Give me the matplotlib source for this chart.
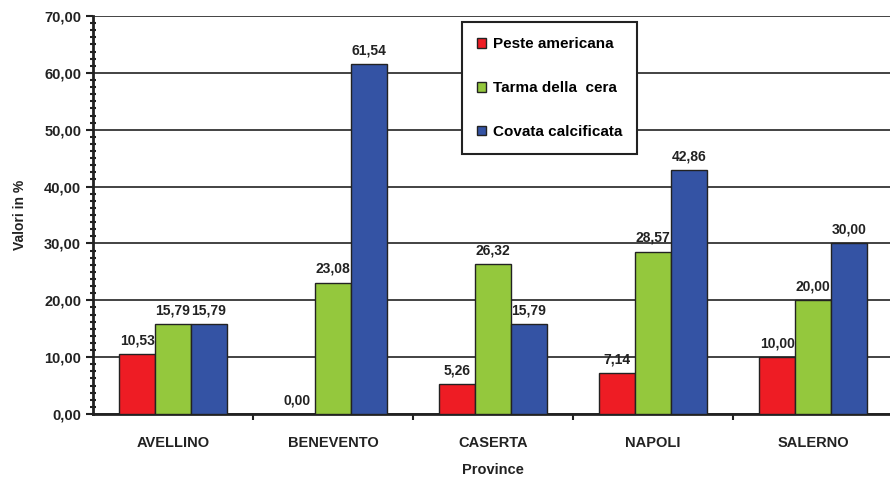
import matplotlib
matplotlib.use("Agg")
import matplotlib.pyplot as plt
import numpy as np
from matplotlib.ticker import MultipleLocator, FuncFormatter

provinces = ["AVELLINO", "BENEVENTO", "CASERTA", "NAPOLI", "SALERNO"]
series_names = ["Peste americana", "Tarma della  cera", "Covata calcificata"]
peste = [10.53, 0.00, 5.26, 7.14, 10.00]
tarma = [15.79, 23.08, 26.32, 28.57, 20.00]
covata = [15.79, 61.54, 15.79, 42.86, 30.00]
colors = ["#ee1c24", "#94c83d", "#3453a4"]

plt.rcParams['font.family'] = ['Liberation Sans', 'DejaVu Sans']
plt.rcParams['font.weight'] = 'bold'

fig = plt.figure(figsize=(8.9, 4.84), dpi=100)
ax = fig.add_axes([93/890, 1 - 414/484, 800/890, (414 - 16)/484])

x = np.arange(len(provinces))
w = 0.224
for i, (vals, name, c) in enumerate(zip([peste, tarma, covata], series_names, colors)):
    pos = x + (i - 1) * w
    ax.bar(pos, vals, width=w, color=c, edgecolor="#222222", linewidth=1.0,
           label=name, zorder=3)
    for xp, v in zip(pos, vals):
        ax.text(xp, v + 1.2, f"{v:.2f}".replace(".", ","), ha="center", va="bottom",
                fontsize=10, fontweight="bold", color="#222222", zorder=4)

ax.set_xlim(-0.5, len(provinces) - 0.5)
ax.set_ylim(0, 70)
ax.yaxis.set_major_locator(MultipleLocator(10))
ax.yaxis.set_minor_locator(MultipleLocator(1.25))
ax.yaxis.set_major_formatter(FuncFormatter(lambda v, p: f"{v:.2f}".replace(".", ",")))
ax.set_xticks(x)
ax.set_xticklabels(provinces)
ax.set_xticks(np.arange(0.5, len(provinces) - 0.5, 1), minor=True)
ax.tick_params(axis="x", which="major", length=0, pad=16, labelsize=10.5)
ax.tick_params(axis="x", which="minor", length=4, width=1.5, direction="out", color="#222222")
ax.tick_params(axis="y", which="major", length=5, width=1.5, direction="out", labelsize=10.5, color="#222222")
ax.tick_params(axis="y", which="minor", length=4, width=1.5, direction="inout", color="#222222")
for lbl in ax.get_xticklabels() + ax.get_yticklabels():
    lbl.set_fontweight("bold")
    lbl.set_color("#222222")

ax.grid(axis="y", which="major", color="#222222", linewidth=1.2, zorder=0)
for s in ["top", "right"]:
    ax.spines[s].set_visible(False)
ax.spines["left"].set_linewidth(2.0)
ax.spines["bottom"].set_linewidth(2.0)
ax.spines["left"].set_color("#222222")
ax.spines["bottom"].set_color("#222222")

ax.set_ylabel("Valori in %", fontsize=10, fontweight="bold", labelpad=12, color="#222222")
ax.set_xlabel("Province", fontsize=10.5, fontweight="bold", labelpad=9, color="#222222")

leg = ax.legend(loc="upper left", bbox_to_anchor=((462 - 93) / 800, (414 - 22) / 398),
                frameon=True, fancybox=False, edgecolor="#222222", framealpha=1,
                fontsize=11, labelspacing=1.95, handlelength=0.6, handleheight=0.6,
                handletextpad=0.4, borderpad=1.0, borderaxespad=0)
leg.get_frame().set_linewidth(1.5)
leg.set_zorder(5)
for t in leg.get_texts():
    t.set_fontweight("bold")

fig.savefig("out.png", dpi=100, facecolor="white")
